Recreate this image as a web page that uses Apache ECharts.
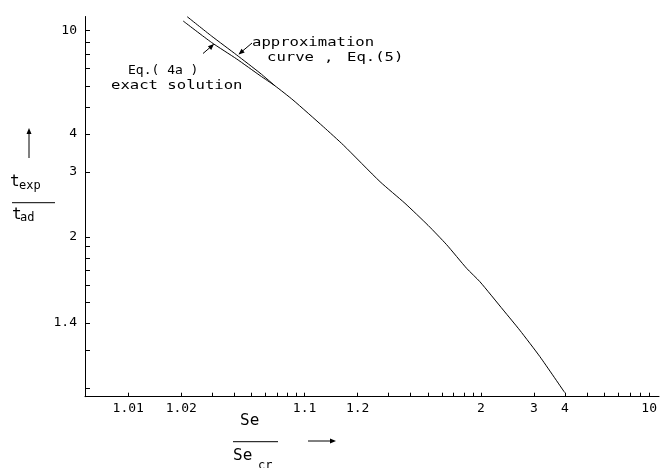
<!DOCTYPE html>
<html>
<head>
<meta charset="utf-8">
<title>t_exp / t_ad</title>
<script src="https://cdn.jsdelivr.net/npm/echarts@6.0.0/dist/echarts.min.js"></script>
<style>
html, body { margin: 0; padding: 0; background: #fff; }
#chart { width: 663px; height: 468px; }
</style>
</head>
<body>
<div id="chart"></div>
<script>
// Se/Se_cr and t_exp/t_ad
var seExact = [1.0205, 1.0297, 1.0412, 1.0559, 1.068, 1.086, 1.128, 1.166, 1.268, 1.371, 1.502, 1.639, 1.830, 1.987, 2.34, 2.66, 3.16, 3.99];
var tExact  = [10.98, 8.94, 7.66, 6.58, 6.0, 5.30, 4.23, 3.66, 2.80, 2.43, 2.13, 1.92, 1.715, 1.62, 1.458, 1.37, 1.279, 1.19];
var seApprox = [1.0216, 1.0297, 1.0412, 1.0559, 1.068];
var tApprox  = [11.45, 9.50, 7.95, 6.73, 6.0];

// axis ticks (both axes are log of value - 1)
var xLabelVals = [1.01, 1.02, 1.1, 1.2, 2, 3, 4, 10];
var xLabelText = ['1.01', '1.02', '1.1', '1.2', '2', '3', '4', '10'];
var xTickVals = [1.01, 1.02, 1.03, 1.04, 1.05, 1.06, 1.07, 1.08, 1.09, 1.1, 1.2, 1.3, 1.4, 1.5, 1.6, 1.7, 1.8, 1.9, 2, 3, 4, 5, 6, 7, 8, 9, 10];
var yLabelVals = [10, 4, 3, 2, 1.4];
var yLabelText = ['10', '4', '3', '2', '1.4'];
var yTickVals = [10, 9, 8, 7, 6, 5, 4, 3, 2, 1.9, 1.8, 1.7, 1.6, 1.5, 1.4, 1.3, 1.2];

function lg(v) { return Math.log10(v - 1); }

function pick(vals, texts) {
    return function (v) {
        var best = 0;
        for (var i = 1; i < vals.length; i++) {
            if (Math.abs(lg(vals[i]) - v) < Math.abs(lg(vals[best]) - v)) best = i;
        }
        return texts[best];
    };
}

function pairs(xs, ys) {
    var out = [];
    for (var i = 0; i < xs.length; i++) out.push([lg(xs[i]), lg(ys[i])]);
    return out;
}

var mono = '"DejaVu Sans Mono", monospace';
var black = '#000';

function txt(x, y, s, size, sx) {
    return {
        type: 'text', x: x, y: y, scaleX: sx || 1,
        style: { text: s, font: size + 'px ' + mono, fill: black, align: 'left', verticalAlign: 'middle' }
    };
}
function seg(x1, y1, x2, y2) {
    return { type: 'line', shape: { x1: x1, y1: y1, x2: x2, y2: y2 }, style: { stroke: black, lineWidth: 1 } };
}
function head(x, y, ang) {
    // small filled arrowhead pointing along ang (radians)
    var l = 6, w = 2.5;
    var bx = x - l * Math.cos(ang), by = y - l * Math.sin(ang);
    var px = -Math.sin(ang) * w, py = Math.cos(ang) * w;
    return { type: 'polygon', shape: { points: [[x, y], [bx + px, by + py], [bx - px, by - py]] }, style: { fill: black } };
}

var chart = echarts.init(document.getElementById('chart'));
chart.setOption({
    animation: false,
    backgroundColor: '#fff',
    grid: { left: 85, right: 4, top: 16.5, bottom: 71.3 },
    xAxis: {
        type: 'value', min: -2.245, max: 1.01,
        splitLine: { show: false },
        axisLine: { onZero: false, lineStyle: { color: black, width: 1 } },
        axisTick: { inside: true, length: 4, customValues: xTickVals.map(lg), lineStyle: { color: black } },
        axisLabel: {
            customValues: xLabelVals.map(lg), formatter: pick(xLabelVals, xLabelText),
            color: black, fontFamily: mono, fontSize: 13, margin: 5
        }
    },
    yAxis: {
        type: 'value', min: -0.74, max: 1.02,
        splitLine: { show: false },
        axisLine: { onZero: false, lineStyle: { color: black, width: 1 } },
        axisTick: { inside: true, length: 5, customValues: yTickVals.map(lg), lineStyle: { color: black } },
        axisLabel: {
            customValues: yLabelVals.map(lg), formatter: pick(yLabelVals, yLabelText),
            color: black, fontFamily: mono, fontSize: 13, margin: 8
        }
    },
    series: [
        {
            name: 'exact', type: 'line', showSymbol: false, smooth: 0.2,
            lineStyle: { color: black, width: 1 },
            data: pairs(seExact, tExact)
        },
        {
            name: 'approx', type: 'line', showSymbol: false, smooth: 0.2,
            lineStyle: { color: black, width: 1 },
            data: pairs(seApprox, tApprox)
        }
    ],
    graphic: [
        txt(252, 43, 'approximation', 13, 1.2),
        txt(267, 58, 'curve', 13, 1.2),
        txt(324, 58, ',', 13, 1.2),
        txt(347, 58, 'Eq.(5)', 13, 1.2),
        seg(252, 43, 239, 54), head(238.5, 54.5, Math.atan2(11, -13)),
        txt(128, 71, 'Eq.( 4a )', 13, 1),
        txt(111, 86, 'exact solution', 13, 1.2),
        seg(203, 53.5, 213.5, 44.5), head(214, 44, Math.atan2(-9.5, 10.5)),
        // y title
        seg(29, 158, 29, 132), head(29, 128, -Math.PI / 2),
        txt(10, 182, 't', 16),
        txt(19, 186, 'exp', 12),
        seg(12, 202.7, 55, 202.7),
        txt(12, 215, 't', 16),
        txt(20, 218, 'ad', 12),
        // x title
        txt(240, 421, 'Se', 16),
        seg(233, 441.7, 278, 441.7),
        txt(233, 456, 'Se', 16),
        txt(258, 466, 'cr', 12),
        seg(308, 441, 331, 441), head(336, 441, 0)
    ]
});
</script>
</body>
</html>
